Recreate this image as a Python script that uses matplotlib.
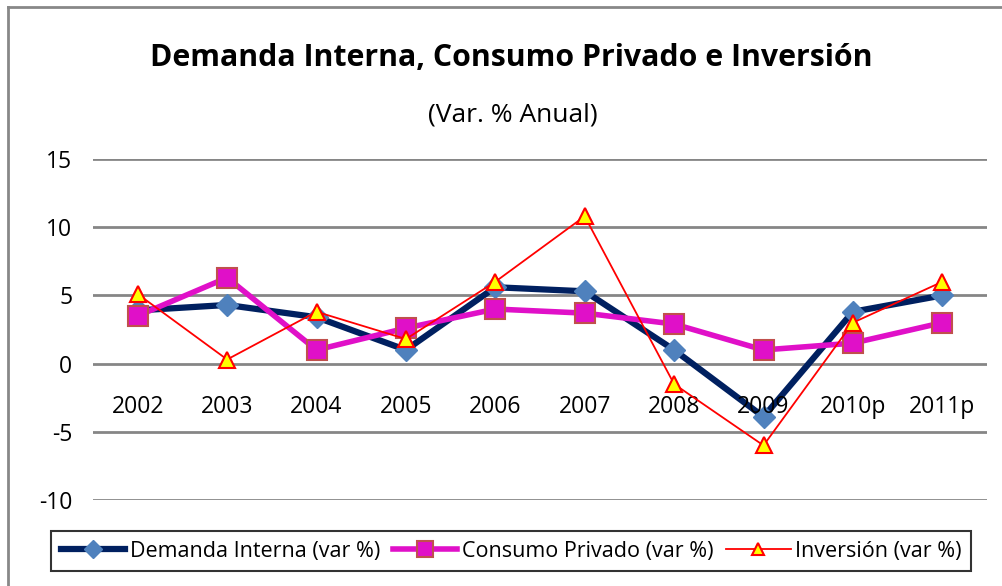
import matplotlib
matplotlib.use("Agg")
import matplotlib.pyplot as plt
from matplotlib.lines import Line2D

plt.rcParams['font.family'] = ['Open Sans', 'DejaVu Sans']

# Values
years = ["2002", "2003", "2004", "2005", "2006", "2007", "2008", "2009", "2010p", "2011p"]
demanda = [3.9, 4.3, 3.4, 1.0, 5.6, 5.3, 1.0, -3.9, 3.8, 5.0]
consumo = [3.5, 6.3, 1.0, 2.6, 4.0, 3.7, 2.9, 1.0, 1.5, 3.0]
inversion = [5.1, 0.3, 3.8, 1.8, 6.0, 10.8, -1.5, -6.0, 3.0, 6.0]
y_ticks = [-10, -5, 0, 5, 10, 15]

W, H = 1003, 586
fig = plt.figure(figsize=(W / 100, H / 100), dpi=100)
ax = fig.add_axes([93 / W, 1 - 500 / H, (987 - 93) / W, (500 - 159) / H])

x = list(range(len(years)))

ax.plot(x, demanda, color="#002060", linewidth=4.5, marker="D", markersize=11,
        markerfacecolor="#4F81BD", markeredgecolor="#4F81BD",
        label="Demanda Interna (var %)", zorder=3)
ax.plot(x, consumo, color="#E010C8", linewidth=4, marker="s", markersize=15,
        markerfacecolor="#E010C8", markeredgecolor="#C0504D", markeredgewidth=1.5,
        label="Consumo Privado (var %)", zorder=4)
ax.plot(x, inversion, color="#FF0000", linewidth=1.3, marker="^", markersize=11,
        markerfacecolor="#FFFF00", markeredgecolor="#FF0000", markeredgewidth=1.5,
        label="Inversión (var %)", zorder=5)

ax.set_xlim(-0.5, len(years) - 0.5)
ax.set_ylim(-10, 15)
ax.set_yticks(y_ticks)
ax.set_yticklabels([str(t) for t in y_ticks], fontsize=16.5)
ax.tick_params(axis="y", length=0, pad=15)
ax.set_xticks([])
for s in ax.spines.values():
    s.set_visible(False)
ax.grid(axis="y", color="#868686", linewidth=2)
ax.set_axisbelow(True)

# category labels sit just under the zero line, inside the plot
for i, lbl in enumerate(years):
    ax.annotate(lbl, (i, 0), xytext=(0, -43), textcoords="offset pixels",
                ha="center", va="center", fontsize=16.5)

fig.text(0.51, 1 - 58 / H, "Demanda Interna, Consumo Privado e Inversión",
         ha="center", va="center", fontsize=21.8, fontweight="bold")
fig.text(0.511, 1 - 115 / H, "(Var. % Anual)", ha="center", va="center", fontsize=19)

leg = fig.legend(loc="center", bbox_to_anchor=(511 / W, 1 - 551 / H), ncol=3,
                 fontsize=15.5, frameon=True, fancybox=False, handlelength=3.0,
                 handletextpad=0.2, columnspacing=0.6, borderpad=0.45, markerscale=0.8)
leg.get_frame().set_edgecolor("black")
leg.get_frame().set_linewidth(1.5)

# outer chart border (left and top edges visible)
fig.add_artist(Line2D([8.5 / W, 8.5 / W], [0, 1 - 7 / H], transform=fig.transFigure,
                      color="#888888", linewidth=2))
fig.add_artist(Line2D([8.5 / W, 1], [1 - 7 / H, 1 - 7 / H], transform=fig.transFigure,
                      color="#888888", linewidth=2))

fig.savefig("out.png", dpi=100)
